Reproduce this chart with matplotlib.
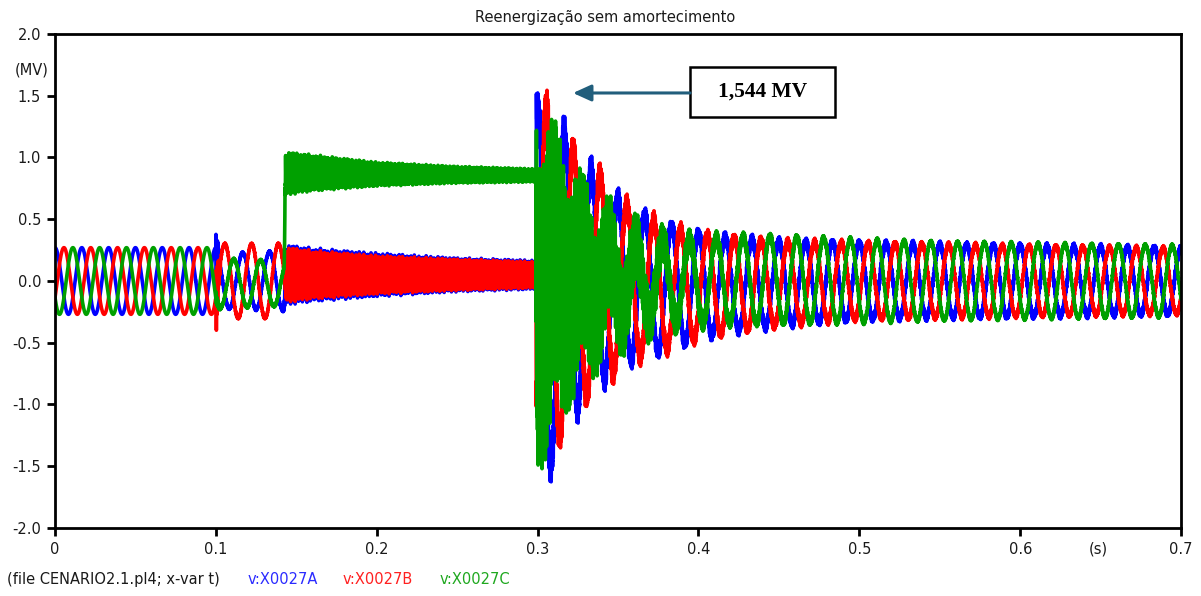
"""
Reenergização sem amortecimento: tensões trifásicas na barra X0027.

Cada fase é montada a partir de envoltórias lidas nos nós de tempo abaixo:
componente de 60 Hz (amplitude), nível médio (carga residual) e amplitude
da oscilação de alta frequência. Salva out.png.
"""

import numpy as np
import matplotlib
matplotlib.use("Agg")
import matplotlib.pyplot as plt
from matplotlib.patches import Rectangle

plt.rcParams["agg.path.chunksize"] = 20000

F_REDE = 60.0            # Hz
T_FIM = 0.7              # s
DT = 5e-6                # passo da simulação
T_RELIGA = 0.2992        # instante da reenergização
PICO_MV = 1.544          # pico anotado

# nós de tempo das envoltórias (s)
T_NOS = [0.0, 0.0999, 0.1, 0.103, 0.1425, 0.1432, 0.16, 0.2, 0.25, 0.299,
         0.2992, 0.305, 0.31, 0.32, 0.33, 0.34, 0.35, 0.36, 0.38, 0.40,
         0.42, 0.45, 0.50, 0.55, 0.60, 0.70]

# fase A (azul)
AMP_A = [0.27, 0.27, 0.22, 0.22, 0.24, 0.0, 0.0, 0.0, 0.0, 0.0,
         1.36, 1.45, 1.40, 1.10, 0.92, 0.80, 0.66, 0.58, 0.49, 0.41,
         0.37, 0.33, 0.30, 0.29, 0.28, 0.26]
MEIO_A = [0.0, 0.0, 0.0, 0.0, 0.0, 0.05, 0.05, 0.05, 0.05, 0.05,
          0.0, -0.05, -0.05, 0.0, 0.0, 0.0, -0.01, -0.03, -0.05, -0.04,
          -0.03, -0.02, 0.0, 0.0, 0.0, 0.0]
AF_A = [0.0, 0.0, 0.22, 0.01, 0.01, 0.25, 0.22, 0.18, 0.14, 0.12,
        0.18, 0.17, 0.16, 0.14, 0.13, 0.11, 0.10, 0.09, 0.07, 0.06,
        0.05, 0.045, 0.035, 0.03, 0.03, 0.03]

# fase B (vermelho)
AMP_B = [0.27, 0.27, 0.30, 0.30, 0.30, 0.0, 0.0, 0.0, 0.0, 0.0,
         1.36, 1.46, 1.26, 1.08, 0.91, 0.84, 0.68, 0.58, 0.49, 0.41,
         0.37, 0.33, 0.30, 0.29, 0.28, 0.26]
MEIO_B = [0.0, 0.0, 0.0, 0.0, 0.0, 0.05, 0.05, 0.05, 0.05, 0.05,
          0.0, -0.05, -0.05, 0.0, 0.0, 0.0, -0.01, -0.03, -0.05, -0.04,
          -0.03, -0.02, 0.0, 0.0, 0.0, 0.0]
AF_B = [0.0, 0.0, 0.32, 0.01, 0.01, 0.23, 0.20, 0.16, 0.13, 0.11,
        0.18, 0.17, 0.16, 0.14, 0.13, 0.11, 0.10, 0.09, 0.07, 0.06,
        0.05, 0.04, 0.03, 0.025, 0.02, 0.02]

# fase C (verde)
AMP_C = [0.27, 0.27, 0.20, 0.20, 0.18, 0.0, 0.0, 0.0, 0.0, 0.0,
         0.35, 0.30, 0.25, 0.20, 0.20, 0.22, 0.25, 0.28, 0.31, 0.33,
         0.34, 0.34, 0.33, 0.31, 0.30, 0.28]
MEIO_C = [0.0, 0.0, -0.02, -0.02, -0.02, 0.87, 0.875, 0.865, 0.86, 0.855,
          0.0, 0.0, 0.0, 0.0, 0.0, 0.0, 0.0, 0.0, 0.0, 0.0,
          0.01, 0.01, 0.0, 0.0, 0.0, 0.0]
AF_C = [0.0, 0.0, 0.05, 0.01, 0.01, 0.18, 0.15, 0.10, 0.07, 0.055,
        1.30, 1.28, 1.15, 0.90, 0.70, 0.55, 0.42, 0.30, 0.15, 0.08,
        0.05, 0.035, 0.02, 0.015, 0.015, 0.015]

FASES_GRAUS = [0.0, -120.0, 120.0]
NOMES = ["v:X0027A", "v:X0027B", "v:X0027C"]
CORES = ["#0000FF", "#FF0000", "#00A000"]
CORES_TEXTO = ["#2B2BFF", "#FF2020", "#1FA81F"]

Y_TICKS = [2.0, 1.5, 1.0, 0.5, 0.0, -0.5, -1.0, -1.5, -2.0]
Y_ROTULOS = ["2.0", "1.5", "1.0", "0.5", "0.0", "-0.5", "-1.0", "-1.5", "-2.0"]
X_TICKS = [0.0, 0.1, 0.2, 0.3, 0.4, 0.5, 0.6, 0.7]
X_ROTULOS = ["0", "0.1", "0.2", "0.3", "0.4", "0.5", "0.6", "0.7"]


def _tensao_fase(t, amp, meio, af, fase_graus):
    """Monta a tensão de uma fase a partir das envoltórias nos nós."""
    a = np.interp(t, T_NOS, amp)
    m = np.interp(t, T_NOS, meio)
    h = np.interp(t, T_NOS, af)
    # oscilação de alta frequência (modos da linha)
    portadora_af = (0.62 * np.sin(2 * np.pi * 2450.0 * t)
                    + 0.28 * np.sin(2 * np.pi * 5310.0 * t + 0.7)
                    + 0.10 * np.sin(2 * np.pi * 1370.0 * t + 1.3))
    return m + a * np.cos(2 * np.pi * F_REDE * t + np.deg2rad(fase_graus)) \
        + h * portadora_af


t = np.arange(0.0, T_FIM + DT, DT)
ondas = [
    _tensao_fase(t, AMP_A, MEIO_A, AF_A, FASES_GRAUS[0]),
    _tensao_fase(t, AMP_B, MEIO_B, AF_B, FASES_GRAUS[1]),
    _tensao_fase(t, AMP_C, MEIO_C, AF_C, FASES_GRAUS[2]),
]

# ajusta o transitório para que o maior pico seja o valor anotado
pos = t >= T_RELIGA
pico = max(v[pos].max() for v in ondas)
for v in ondas:
    v[pos] *= PICO_MV / pico

fig = plt.figure(figsize=(12.01, 5.96), dpi=100)
ax = fig.add_axes([0.0458, 0.1141, 0.9376, 0.8289])

for v, cor in zip(ondas, CORES):
    ax.plot(t, v, color=cor, lw=2.6)

ax.set_xlim(0, T_FIM)
ax.set_ylim(-2.0, 2.0)
ax.set_yticks(Y_TICKS)
ax.set_yticklabels(Y_ROTULOS)
ax.set_xticks(X_TICKS)
ax.set_xticklabels(X_ROTULOS)
ax.tick_params(direction="out", length=6, width=2.0, labelsize=10.5,
               labelcolor="#1a1a1a", pad=4)
for lado in ax.spines.values():
    lado.set_linewidth(2.0)
    lado.set_zorder(10)

fig.text(0.504, 0.971, "Reenergização sem amortecimento", ha="center",
         va="center", fontsize=10.5, color="#1a1a1a")
fig.text(0.0266, 0.8826, "(MV)", ha="center", va="center", fontsize=10.5,
         color="#1a1a1a")
fig.text(0.9143, 0.0789, "(s)", ha="center", va="center", fontsize=10.5,
         color="#1a1a1a")

# linha de identificação das curvas
y_leg = 0.027
fig.text(0.006, y_leg, "(file CENARIO2.1.pl4; x-var t)", ha="left",
         va="center", fontsize=10.5, color="#1a1a1a")
for x0, nome, cor in zip([0.2065, 0.2856, 0.3664], NOMES, CORES_TEXTO):
    fig.text(x0, y_leg, nome, ha="left", va="center", fontsize=10.5, color=cor)

# caixa com o valor de pico e seta
ax.add_patch(Rectangle((0.564, 0.832), 0.1287, 0.1012, transform=ax.transAxes,
                       facecolor="white", edgecolor="black", lw=1.8, zorder=5))
ax.text(0.628, 0.8826, f"{PICO_MV:.3f} MV".replace(".", ","),
        transform=ax.transAxes, ha="center", va="center", fontsize=15.5,
        fontweight="bold", family="Liberation Serif", zorder=6)
ax.annotate("", xy=(0.322, 1.522), xycoords="data",
            xytext=(0.564, 0.8806), textcoords="axes fraction",
            arrowprops=dict(arrowstyle="-|>,head_length=1.1,head_width=0.5",
                            color="#215E7C", lw=2.2, shrinkA=0, shrinkB=0),
            zorder=6)

fig.savefig("out.png", dpi=100)
